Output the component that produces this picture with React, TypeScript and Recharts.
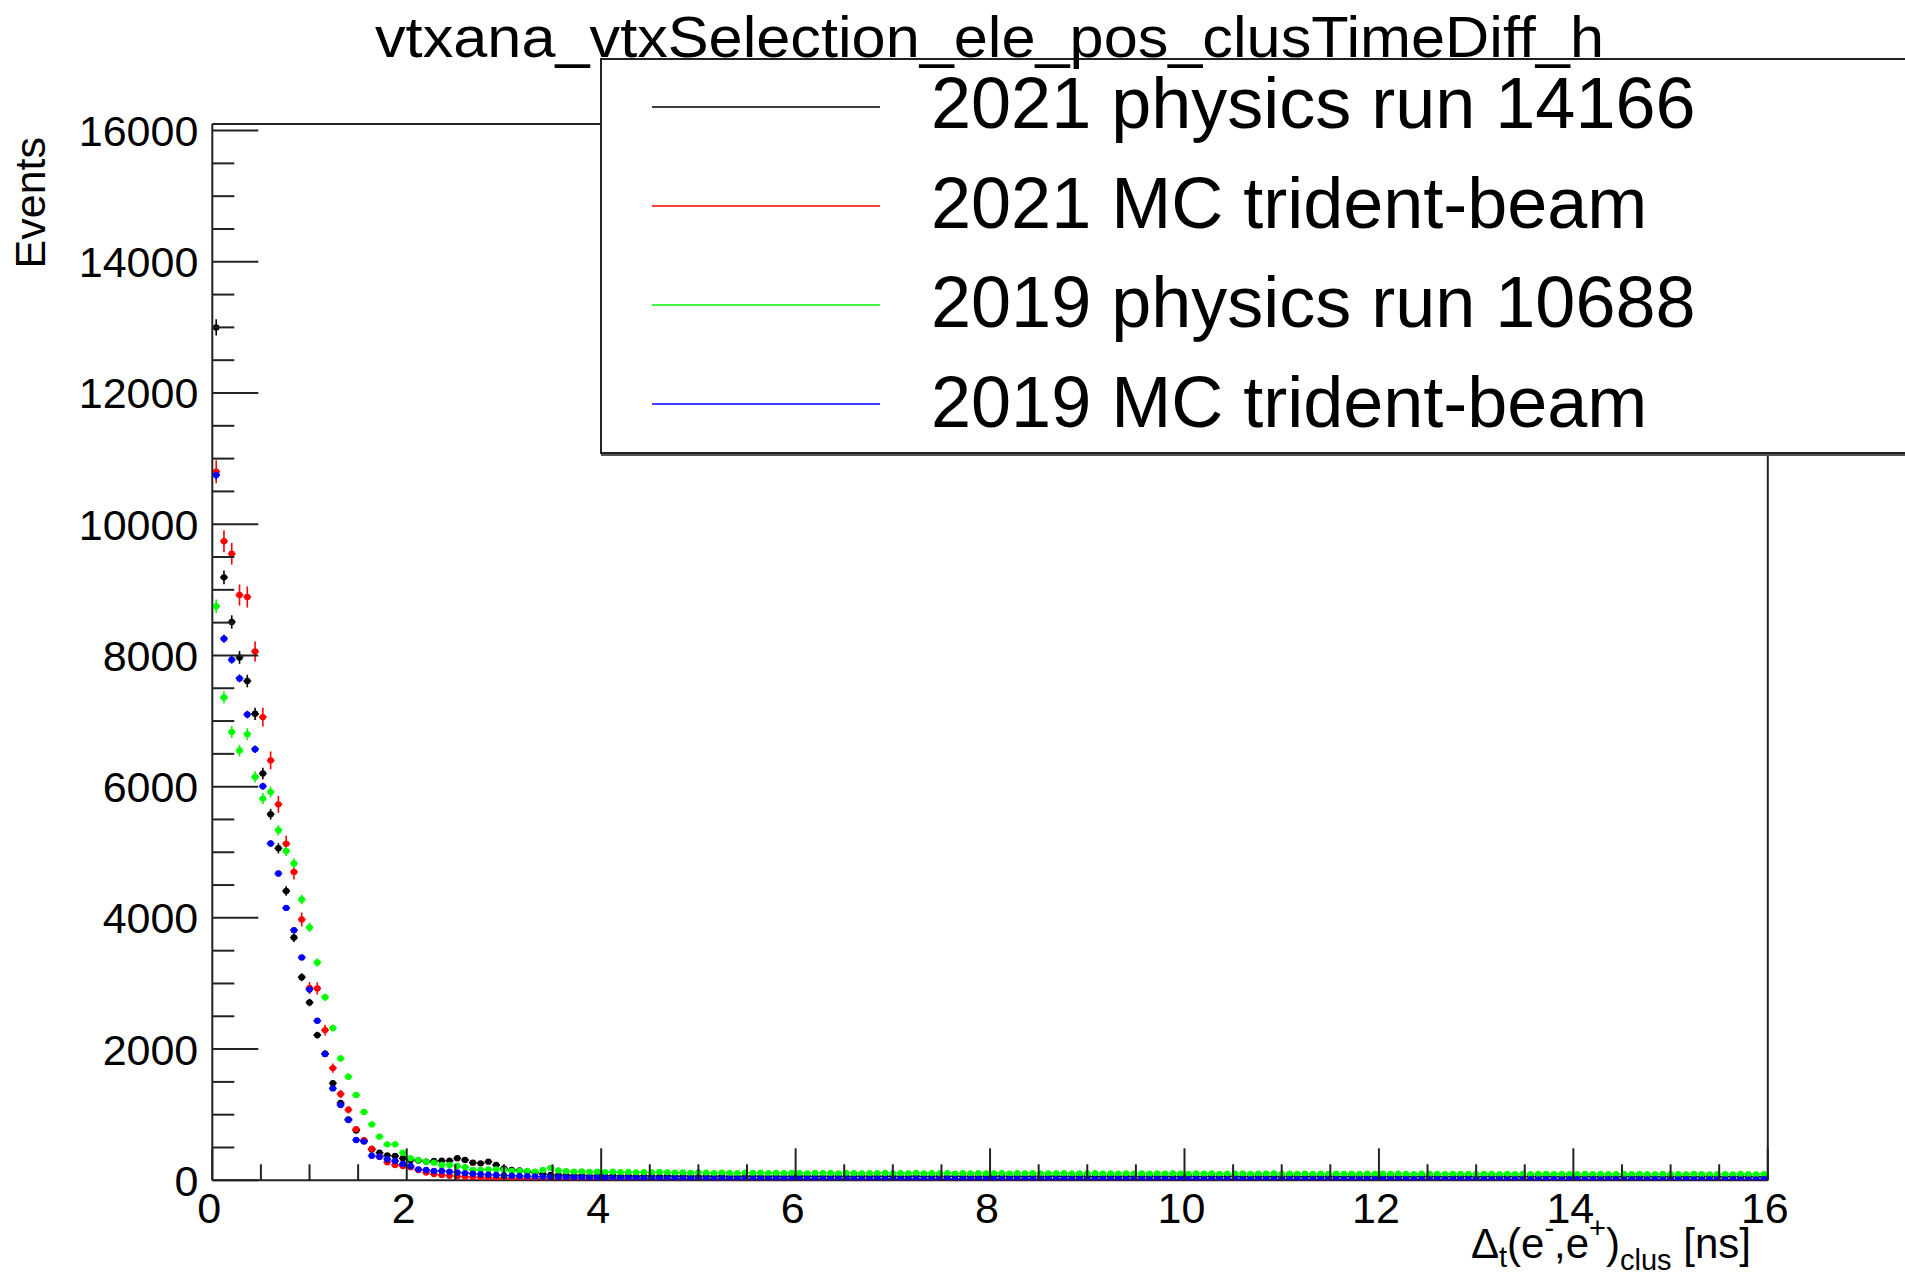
import React from "react";
import { ScatterChart, Scatter, XAxis, YAxis, ErrorBar, ReferenceLine } from "recharts";

// ROOT-style overlay of four clusTimeDiff histograms (200 bins, 0-16 ns).

const TITLE = "vtxana_vtxSelection_ele_pos_clusTimeDiff_h";
const SERIES_NAMES = [
  "2021 physics run 14166",
  "2021 MC trident-beam",
  "2019 physics run 10688",
  "2019 MC trident-beam",
];
const SERIES_COLORS = ["#000000", "#ff0000", "#00ff00", "#0000ff"];

const X_MIN = 0;
const X_MAX = 16;
const Y_MAX = 16100;
const X_TICKS = [
  0, 0.5, 1, 1.5, 2, 2.5, 3, 3.5, 4, 4.5, 5, 5.5, 6, 6.5, 7, 7.5, 8, 8.5, 9, 9.5, 10, 10.5, 11, 11.5, 12,
  12.5, 13, 13.5, 14, 14.5, 15, 15.5, 16,
];
const X_LABELS = [0, 2, 4, 6, 8, 10, 12, 14, 16];
const Y_TICKS = [
  0, 500, 1000, 1500, 2000, 2500, 3000, 3500, 4000, 4500, 5000, 5500, 6000, 6500, 7000, 7500, 8000, 8500,
  9000, 9500, 10000, 10500, 11000, 11500, 12000, 12500, 13000, 13500, 14000, 14500, 15000, 15500, 16000,
];
const Y_LABELS = [0, 2000, 4000, 6000, 8000, 10000, 12000, 14000, 16000];

// bin contents
const run14166 = [
  13000, 9190, 8510, 7970, 7610, 7110, 6200, 5580, 5060, 4410, 3700, 3095, 2710, 2213, 1930, 1480, 1180, 929, 760, 600,
  470, 420, 380, 370, 335, 310, 300, 285, 294, 299, 300, 335, 309, 269, 258, 284, 233, 182, 157, 150,
  132, 117, 96, 81, 80, 78, 72, 75, 68, 70, 66, 71, 64, 69, 62, 67, 65, 60, 66, 63,
  61, 64, 58, 63, 60, 62, 57, 61, 59, 64, 58, 60, 62, 56, 61, 59, 63, 57, 60, 58,
  62, 56, 59, 61, 57, 60, 58, 63, 55, 59, 61, 57, 58, 60, 56, 62, 57, 59, 55, 60,
  58, 61, 56, 59, 57, 60, 55, 58, 62, 56, 59, 57, 61, 55, 58, 60, 56, 59, 57, 54,
  60, 57, 59, 55, 58, 61, 56, 57, 59, 54, 58, 60, 55, 57, 59, 56, 58, 54, 60, 57,
  55, 59, 57, 56, 58, 54, 60, 56, 57, 59, 55, 58, 56, 57, 54, 59, 56, 58, 55, 57,
  56, 58, 54, 57, 59, 55, 56, 58, 54, 57, 55, 59, 56, 54, 57, 55, 58, 56, 54, 57,
  55, 57, 56, 53, 58, 55, 56, 54, 57, 55, 53, 56, 58, 54, 55, 57, 53, 56, 55, 54,
];
const mc2021 = [
  10800, 9740, 9550, 8920, 8890, 8060, 7060, 6400, 5730, 5130, 4700, 3976, 2930, 2925, 2289, 1710, 1315, 1075, 780, 612,
  480, 360, 275, 233, 218, 198, 157, 120, 95, 80, 70, 62, 55, 48, 44, 40, 36, 33, 30, 28,
  26, 24, 22, 21, 19, 18, 17, 16, 15, 14, 14, 13, 12, 12, 11, 11, 10, 10, 9, 10,
  9, 8, 9, 8, 7, 9, 8, 7, 8, 7, 8, 6, 7, 8, 7, 6, 7, 8, 6, 7,
  6, 7, 6, 8, 6, 5, 7, 6, 5, 6, 7, 5, 6, 5, 6, 7, 5, 6, 5, 6,
  5, 6, 5, 4, 6, 5, 5, 6, 4, 5, 6, 5, 4, 5, 6, 4, 5, 5, 4, 6,
  5, 4, 5, 5, 4, 6, 4, 5, 4, 5, 5, 4, 6, 4, 5, 4, 5, 4, 5, 4,
  4, 5, 4, 5, 3, 5, 4, 4, 5, 3, 4, 5, 4, 4, 3, 5, 4, 4, 3, 4,
  4, 3, 5, 4, 3, 4, 4, 3, 5, 4, 3, 4, 4, 3, 4, 3, 4, 4, 3, 4,
  3, 4, 4, 3, 4, 3, 3, 4, 3, 4, 3, 3, 4, 3, 3, 4, 3, 3, 4, 3,
];
const run10688 = [
  8750, 7360, 6833, 6550, 6800, 6148, 5818, 5919, 5336, 5021, 4829, 4280, 3854, 3320, 2790, 2320, 1858, 1578, 1299, 1040,
  852, 665, 548, 548, 421, 335, 309, 284, 269, 233, 233, 218, 198, 157, 157, 167, 167, 157, 142, 142,
  142, 132, 157, 190, 150, 138, 130, 135, 128, 132, 125, 130, 122, 127, 120, 124, 118, 126, 121, 115,
  118, 112, 120, 115, 110, 117, 113, 108, 116, 111, 114, 109, 113, 107, 112, 110, 106, 113, 108, 111,
  105, 112, 108, 104, 110, 107, 113, 103, 109, 106, 111, 104, 108, 105, 110, 102, 107, 104, 109, 103,
  106, 110, 102, 107, 104, 109, 101, 106, 103, 108, 100, 105, 103, 107, 100, 104, 102, 106, 99, 103,
  101, 105, 99, 104, 101, 98, 103, 100, 105, 98, 102, 99, 104, 97, 101, 99, 103, 97, 100, 98,
  102, 96, 100, 98, 101, 95, 99, 97, 101, 96, 99, 95, 100, 97, 94, 99, 96, 98, 94, 97,
  95, 98, 94, 97, 95, 93, 98, 94, 96, 92, 97, 95, 93, 96, 94, 92, 97, 93, 95, 92,
  94, 96, 92, 95, 93, 91, 96, 92, 94, 91, 95, 93, 90, 94, 92, 91, 95, 92, 90, 93,
];
const mc2019 = [
  10750, 8256, 7936, 7650, 7100, 6570, 6006, 5133, 4676, 4152, 3813, 3397, 2909, 2431, 1924, 1401, 1147, 918, 614, 590,
  375, 360, 320, 294, 248, 218, 167, 157, 142, 142, 132, 120, 110, 100, 92, 85, 80, 74, 70, 66,
  62, 58, 55, 52, 50, 47, 45, 43, 41, 40, 38, 37, 35, 34, 33, 32, 31, 30, 30, 29,
  28, 29, 27, 28, 26, 27, 25, 26, 27, 24, 25, 26, 24, 25, 23, 25, 24, 23, 24, 22,
  23, 24, 22, 23, 21, 23, 22, 24, 21, 22, 23, 20, 22, 21, 23, 20, 21, 22, 20, 21,
  22, 20, 21, 19, 22, 20, 21, 19, 20, 22, 19, 20, 21, 18, 20, 19, 21, 18, 20, 19,
  18, 20, 19, 18, 20, 17, 19, 18, 20, 17, 18, 19, 17, 18, 19, 17, 18, 16, 18, 17,
  18, 16, 17, 18, 16, 17, 18, 16, 17, 15, 17, 16, 18, 15, 16, 17, 15, 16, 17, 15,
  16, 15, 17, 16, 15, 16, 14, 16, 15, 16, 14, 15, 16, 14, 15, 16, 14, 15, 14, 16,
  15, 14, 15, 16, 14, 15, 13, 15, 14, 15, 13, 14, 15, 14, 13, 15, 14, 13, 14, 15,
];
// error bar scale relative to sqrt(N) (MC samples are weighted)
const ERR_SCALE = [1.1, 1.7, 1.1, 0.7];

const SERIES = [run14166, mc2021, run10688, mc2019];

const toPoints = (vals: number[], errScale: number) => {
  const w = (X_MAX - X_MIN) / vals.length;
  return vals.map((v, i) => ({
    x: X_MIN + (i + 0.5) * w,
    y: v,
    ex: w / 2,
    ey: errScale * Math.sqrt(v),
  }));
};

const FONT = "'Liberation Sans', Arial, Helvetica, sans-serif";
const AXIS = "#222";

const YTick = (props: any) => {
  const { x, y, payload } = props;
  const major = Y_LABELS.includes(payload.value);
  return (
    <g>
      <line x1={x} x2={x + (major ? 46 : 22)} y1={y} y2={y} stroke={AXIS} strokeWidth={2} />
      {major && (
        <text x={x - 14} y={y} dy="0.36em" textAnchor="end" fontSize={43} fill="#000" fontFamily={FONT}>
          {payload.value}
        </text>
      )}
    </g>
  );
};

const XTick = (props: any) => {
  const { x, y, payload } = props;
  const major = X_LABELS.includes(payload.value);
  return (
    <g>
      <line x1={x} x2={x} y1={y} y2={y - (major ? 32 : 16)} stroke={AXIS} strokeWidth={2} />
      {major && (
        <text x={x - 3} y={y + 43} textAnchor="middle" fontSize={43} fill="#000" fontFamily={FONT}>
          {payload.value}
        </text>
      )}
    </g>
  );
};

const dot = (color: string) => (p: any) => <circle cx={p.cx} cy={p.cy} r={3.2} fill={color} />;

export default function App() {
  return (
    <div style={{ position: "absolute", left: 0, top: 0, width: 1905, height: 1274, overflow: "hidden", background: "#fff", fontFamily: FONT }}>
      <ScatterChart width={1905} height={1274} margin={{ top: 124, right: 137.2, bottom: 43.7, left: 112.3 }}>
        <XAxis
          type="number"
          dataKey="x"
          domain={[X_MIN, X_MAX]}
          ticks={X_TICKS}
          interval={0}
          allowDataOverflow
          height={50}
          tickSize={0}
          tickMargin={0}
          tickLine={false}
          tick={<XTick />}
          axisLine={{ stroke: AXIS, strokeWidth: 2 }}
        />
        <YAxis
          type="number"
          dataKey="y"
          domain={[0, Y_MAX]}
          ticks={Y_TICKS}
          interval={0}
          allowDataOverflow
          width={100}
          tickSize={0}
          tickMargin={0}
          tickLine={false}
          tick={<YTick />}
          axisLine={{ stroke: AXIS, strokeWidth: 2 }}
        />
        <ReferenceLine x={X_MAX} stroke={AXIS} strokeWidth={2} />
        <ReferenceLine y={Y_MAX} stroke={AXIS} strokeWidth={2} />
        {SERIES.map((vals, s) => (
          <Scatter
            key={SERIES_NAMES[s]}
            name={SERIES_NAMES[s]}
            data={toPoints(vals, ERR_SCALE[s])}
            fill={SERIES_COLORS[s]}
            shape={dot(SERIES_COLORS[s])}
            isAnimationActive={false}
          >
            <ErrorBar dataKey="ey" direction="y" width={0} stroke={SERIES_COLORS[s]} strokeWidth={1.6} isAnimationActive={false} />
            <ErrorBar dataKey="ex" direction="x" width={0} stroke={SERIES_COLORS[s]} strokeWidth={1.6} isAnimationActive={false} />
          </Scatter>
        ))}
      </ScatterChart>

      <svg width={1905} height={1274} style={{ position: "absolute", left: 0, top: 0, pointerEvents: "none" }} fontFamily={FONT}>
        {/* legend */}
        <rect x={601} y={59} width={1330} height={394} fill="#fff" stroke={AXIS} strokeWidth={2} />
        <line x1={601} x2={1905} y1={455} y2={455} stroke="#555" strokeWidth={2} />
        {SERIES_NAMES.map((name, i) => (
          <g key={name}>
            <line x1={652} x2={880} y1={107 + i * 99} y2={107 + i * 99} stroke={SERIES_COLORS[i]} strokeWidth={2} opacity={0.75} />
            <text x={931} y={128 + i * 99.7} fontSize={72} fill="#000">
              {name}
            </text>
          </g>
        ))}

        {/* axis titles */}
        <text transform="translate(45,137) rotate(-90)" textAnchor="end" fontSize={43} fill="#000">
          Events
        </text>
        <text x={1751} y={1258} textAnchor="end" fontSize={42} fill="#000">
          Δ<tspan fontSize={29} dy={9}>t</tspan>
          <tspan dy={-9}>(e</tspan>
          <tspan fontSize={29} dy={-20}>-</tspan>
          <tspan dy={20}>,e</tspan>
          <tspan fontSize={29} dy={-20}>+</tspan>
          <tspan dy={20}>)</tspan>
          <tspan fontSize={29} dy={12}>clus</tspan>
          <tspan dy={-12}> [ns]</tspan>
        </text>

        {/* title on top, as in the original canvas */}
        <text x={375} y={57} fontSize={58} fill="#000" textLength={1229} lengthAdjust="spacingAndGlyphs">
          {TITLE}
        </text>
      </svg>
    </div>
  );
}
